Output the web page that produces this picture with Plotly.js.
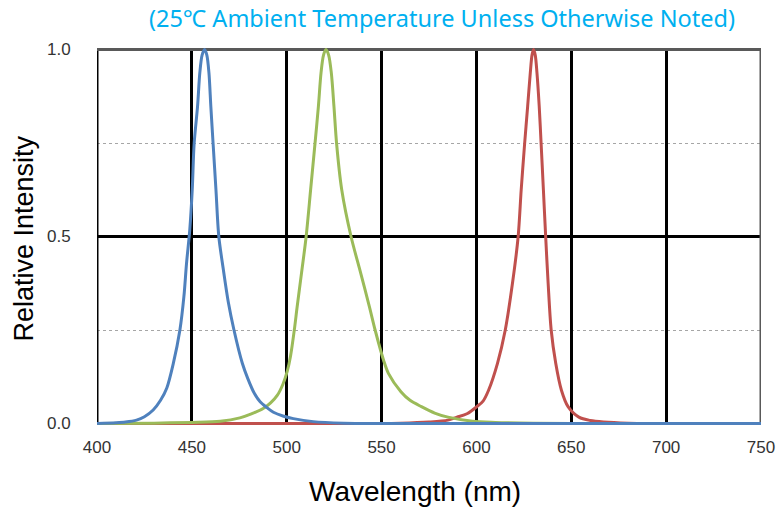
<!DOCTYPE html>
<html>
<head>
<meta charset="utf-8">
<script src="https://cdn.plot.ly/plotly-3.0.1.min.js"></script>
<style>
  html, body { margin: 0; padding: 0; background: #fff; }
  #chart { width: 779px; height: 511px; }
</style>
</head>
<body>
<div id="chart"></div>
<script>
// Relative spectral intensity of the blue, green and red emitters.
const blueWavelength = [400, 410, 415, 420.8, 425, 429.6, 433.5, 436.8, 440.2, 443.7, 445.8, 447.2, 448.9, 450.2, 451.2, 453, 454.2, 455.4, 456.7, 457.9, 459, 460, 461.2, 462.7, 464.2, 466.5, 469.2, 472.2, 476.6, 479.5, 483, 486, 489.4, 493, 498, 503.5, 514, 530, 550, 750];
const blueIntensity  = [0, 0.002, 0.004, 0.009, 0.018, 0.036, 0.062, 0.095, 0.16, 0.25, 0.339, 0.429, 0.518, 0.625, 0.748, 0.848, 0.938, 0.985, 1.0, 0.985, 0.938, 0.848, 0.748, 0.625, 0.5, 0.415, 0.325, 0.25, 0.161, 0.12, 0.08, 0.058, 0.043, 0.03, 0.02, 0.013, 0.005, 0.001, 0, 0];

const greenWavelength = [400, 430, 450, 465, 475.3, 481, 487.6, 491.5, 495, 498, 500.3, 502, 504, 505.5, 507.8, 510.2, 512.6, 514.9, 516.7, 518.1, 519.4, 520.7, 522.1, 523.5, 524.9, 526.3, 529, 533.9, 539, 543.6, 546.6, 551, 553.6, 560.2, 565, 571, 578, 585, 598, 610, 630, 650, 750];
const greenIntensity  = [0, 0.001, 0.003, 0.006, 0.015, 0.025, 0.04, 0.055, 0.075, 0.105, 0.14, 0.18, 0.25, 0.312, 0.402, 0.498, 0.625, 0.748, 0.848, 0.938, 0.985, 1.0, 0.985, 0.938, 0.848, 0.748, 0.625, 0.5, 0.402, 0.312, 0.25, 0.17, 0.134, 0.085, 0.062, 0.045, 0.028, 0.017, 0.006, 0.003, 0.001, 0, 0];

const redWavelength = [400, 540, 560, 575, 585, 589.7, 595, 600.2, 603.5, 606.4, 611.1, 615.2, 619, 622, 623.6, 625.4, 627, 628.4, 629.3, 630.1, 631, 631.9, 633.1, 634.1, 635.3, 636.5, 637.8, 639.4, 641.8, 644.8, 648.3, 654, 660, 667, 680, 700, 750];
const redIntensity  = [0, 0, 0.001, 0.004, 0.009, 0.017, 0.026, 0.045, 0.06, 0.089, 0.161, 0.25, 0.375, 0.5, 0.625, 0.748, 0.848, 0.938, 0.985, 1.0, 0.985, 0.938, 0.848, 0.748, 0.625, 0.5, 0.375, 0.25, 0.161, 0.089, 0.045, 0.017, 0.008, 0.004, 0.001, 0, 0];

const xTickValues = [400, 450, 500, 550, 600, 650, 700, 750];
const yTickValues = [0, 0.5, 1.0];
const yTickLabels = ['0.0', '0.5', '1.0'];

const BLUE = '#4F81BD', GREEN = '#9BBB59', RED = '#C0504D';

function curve(x, y, color, name) {
  return {
    type: 'scatter', mode: 'lines', name: name, x: x, y: y,
    line: { color: color, width: 3, shape: 'spline', smoothing: 0.85 },
    hoverinfo: 'x+y'
  };
}

const data = [
  curve(redWavelength, redIntensity, RED, 'Red'),
  curve(greenWavelength, greenIntensity, GREEN, 'Green'),
  curve(blueWavelength, blueIntensity, BLUE, 'Blue')
];

const tickFont = { family: 'Liberation Sans, Arial, sans-serif', size: 17, color: '#333333' };

// frame around the plot: black left/bottom, dark grey top/right
function edge(x0, y0, x1, y1, color) {
  return { type: 'line', xref: 'x', yref: 'y', x0: x0, y0: y0, x1: x1, y1: y1,
           line: { color: color, width: 3 }, layer: 'between' };
}

const layout = {
  width: 779, height: 511,
  margin: { l: 97, r: 18, t: 48, b: 86 },
  paper_bgcolor: '#ffffff', plot_bgcolor: '#ffffff',
  showlegend: false,
  title: {
    text: '(25\u2103 Ambient Temperature Unless Otherwise Noted)',
    font: { family: 'Noto Sans, sans-serif', size: 23.5, color: '#00B0F0' },
    x: 442 / 779, xref: 'container', xanchor: 'center',
    y: 1 - 19 / 511, yref: 'container', yanchor: 'middle'
  },
  xaxis: {
    range: [400, 750], tickvals: xTickValues,
    showgrid: true, gridcolor: '#000000', gridwidth: 3,
    zeroline: false, showline: false,
    ticks: 'outside', ticklen: 7, tickcolor: 'rgba(0,0,0,0)',
    tickfont: tickFont, fixedrange: true
  },
  yaxis: {
    range: [-0.004, 1.004], tickvals: yTickValues, ticktext: yTickLabels,
    showgrid: true, gridcolor: '#000000', gridwidth: 3,
    minor: { tickvals: [0.25, 0.75], showgrid: true, gridcolor: '#A6A6A6', gridwidth: 1, griddash: 'dot', ticks: '' },
    zeroline: false, showline: false,
    ticks: 'outside', ticklen: 22, tickcolor: 'rgba(0,0,0,0)',
    tickfont: tickFont, fixedrange: true
  },
  shapes: [
    edge(400, 0, 750, 0, '#000000'),
    edge(400, 0, 400, 1, '#000000'),
    edge(400, 1, 750, 1, '#595959'),
    edge(750, 0, 750, 1, '#595959')
  ],
  annotations: [
    {
      text: 'Wavelength (nm)', xref: 'paper', yref: 'paper',
      x: (415 - 97) / 664, y: -(490 - 423.5) / 377, xanchor: 'center', yanchor: 'middle',
      showarrow: false, font: { family: 'Liberation Sans, Arial, sans-serif', size: 28, color: '#000000' }
    },
    {
      text: 'Relative Intensity', xref: 'paper', yref: 'paper', textangle: -90,
      x: -(97 - 23) / 664, y: (423.5 - 237) / 377, xanchor: 'center', yanchor: 'middle',
      showarrow: false, font: { family: 'Liberation Sans, Arial, sans-serif', size: 27, color: '#000000' }
    }
  ]
};

Plotly.newPlot('chart', data, layout, { displayModeBar: false, staticPlot: true });
</script>
</body>
</html>
